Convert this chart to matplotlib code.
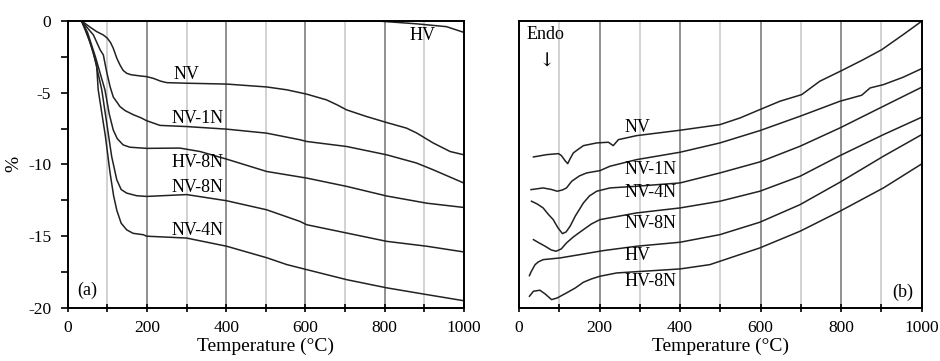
import matplotlib
matplotlib.use("Agg")
import matplotlib.pyplot as plt
import numpy as np

plt.rcParams['font.family'] = ['Liberation Serif', 'DejaVu Serif']
plt.rcParams['font.size'] = 13
plt.rcParams['axes.unicode_minus'] = False

# (a) mass loss, %
nv_x = [35, 60, 73, 90, 100, 108, 115, 124, 132, 140, 149, 160, 182, 199, 216, 235, 250, 300, 401, 502, 553, 603, 653, 680, 704, 754, 805, 855, 880, 922, 965, 1000]
nv_y = [0, -0.5, -0.74, -0.98, -1.2, -1.5, -1.9, -2.6, -3.07, -3.45, -3.65, -3.75, -3.83, -3.88, -4.0, -4.2, -4.3, -4.34, -4.4, -4.6, -4.8, -5.1, -5.5, -5.85, -6.2, -6.66, -7.08, -7.47, -7.8, -8.5, -9.1, -9.33]

nv1n_x = [35, 65, 82, 90, 98, 107, 115, 124, 132, 145, 166, 185, 199, 233, 300, 401, 502, 586, 603, 704, 805, 880, 922, 1000]
nv1n_y = [0, -0.98, -2.02, -2.37, -3.5, -4.58, -5.3, -5.65, -5.97, -6.25, -6.54, -6.75, -6.95, -7.28, -7.36, -7.54, -7.82, -8.28, -8.4, -8.75, -9.33, -9.9, -10.37, -11.3]

hv8n_x = [35, 50, 70, 94, 105, 115, 125, 140, 157, 199, 283, 334, 401, 502, 603, 704, 805, 906, 1000]
hv8n_y = [0, -0.8, -2.5, -4.8, -6.5, -7.6, -8.2, -8.64, -8.8, -8.88, -8.86, -9.1, -9.63, -10.49, -10.95, -11.53, -12.2, -12.7, -13.0]

nv8n_x = [35, 45, 65, 86, 100, 111, 124, 135, 149, 174, 199, 300, 401, 502, 586, 603, 704, 805, 906, 1000]
nv8n_y = [0, -0.6, -2.2, -4.8, -7.4, -9.45, -11.08, -11.75, -12.0, -12.18, -12.23, -12.1, -12.53, -13.16, -13.97, -14.2, -14.78, -15.36, -15.7, -16.1]

nv4n_x = [35, 56, 73, 77, 95, 107, 116, 124, 135, 149, 165, 191, 199, 300, 401, 502, 553, 603, 704, 805, 906, 1000]
nv4n_y = [0, -1.44, -3.07, -4.8, -8.0, -10.6, -12.2, -13.2, -14.1, -14.56, -14.8, -14.9, -15.0, -15.13, -15.7, -16.5, -16.98, -17.33, -18.03, -18.6, -19.07, -19.5]

hv_x = [35, 400, 780, 880, 956, 1000]
hv_y = [0, 0, 0, -0.2, -0.4, -0.8]

# (b) DTA signal, arbitrary units (height above axis bottom)
b_nv_x = [36, 69, 98, 105, 115, 121, 128, 135, 145, 160, 193, 222, 234, 247, 292, 400, 499, 549, 598, 648, 702, 747, 801, 855, 901, 954, 1000]
b_nv_y = [151, 153.3, 154.3, 152.5, 147, 144.3, 150, 155, 158, 162.3, 165, 165.7, 162.3, 168.3, 172.3, 177.7, 183.3, 190, 198.3, 206.7, 213.3, 226.7, 237.3, 248.3, 258.3, 273.3, 286.7]

b_nv1n_x = [30, 60, 80, 95, 108, 118, 131, 150, 168, 201, 226, 292, 400, 499, 598, 698, 797, 851, 872, 905, 954, 1000]
b_nv1n_y = [118.3, 120, 118.5, 116.7, 118, 120, 126.7, 132, 135, 137.3, 141.7, 148.3, 155.7, 165, 177.3, 191.7, 206.7, 212.7, 220, 223.3, 230.7, 239.3]

b_nv4n_x = [31, 45, 60, 72, 85, 97, 108, 117, 127, 140, 160, 175, 193, 226, 292, 400, 499, 598, 698, 797, 905, 1000]
b_nv4n_y = [106.7, 104, 100, 94, 88.3, 80, 74.3, 76, 81.7, 92, 105, 112, 116.7, 120, 121.7, 125, 135, 146, 161.7, 180, 201.7, 220.7]

b_nv8n_x = [36, 50, 65, 80, 92, 105, 118, 135, 160, 180, 201, 292, 400, 499, 598, 698, 797, 905, 1000]
b_nv8n_y = [68.3, 65, 61.7, 58, 56.7, 59, 65, 71, 78.3, 84, 88.3, 95, 100, 106.7, 116.7, 131.7, 152.3, 173.3, 190.7]

b_hv_x = [26, 30, 40, 48, 60, 102, 151, 209, 292, 400, 499, 598, 698, 797, 905, 1000]
b_hv_y = [32.3, 36, 43.3, 46, 48.3, 50, 53.3, 57.3, 61.7, 65.7, 73.3, 85.7, 103.3, 125.7, 151.7, 173.3]

b_hv8n_x = [26, 36, 52, 65, 81, 95, 118, 140, 160, 180, 201, 243, 400, 474, 598, 698, 797, 905, 1000]
b_hv8n_y = [11.7, 16.7, 17.7, 14, 8.3, 10, 15, 20, 25.7, 29, 31.7, 35, 39, 43.3, 60, 76.7, 96.7, 120, 144]

fig = plt.figure(figsize=(9.4, 3.61), dpi=100)
ax1 = fig.add_axes([0.072, 0.147, 0.4216, 0.795])
ax2 = fig.add_axes([0.5521, 0.147, 0.4284, 0.795])


def setup(ax):
    ax.set_xlim(0, 1000)
    for t in range(100, 1000, 100):
        col = '#888888' if t % 200 == 0 else '#cfcfcf'
        ax.axvline(t, color=col, lw=1.3, zorder=0)
    ax.set_xticks(range(0, 1001, 200))
    ax.set_xticks(range(0, 1001, 100), minor=True)
    ax.tick_params(axis='x', which='both', direction='inout', length=6, width=1.2,
                   pad=6, labelsize=12.5)
    ax.set_xlabel('Temperature (°C)', labelpad=1, fontsize=14)
    for s in ax.spines.values():
        s.set_linewidth(1.4)


lw = 1.1
setup(ax1)
for xs, ys in [(nv_x, nv_y), (nv1n_x, nv1n_y), (hv8n_x, hv8n_y), (nv8n_x, nv8n_y), (nv4n_x, nv4n_y), (hv_x, hv_y)]:
    ax1.plot(xs, ys, color='#222222', lw=lw)
ax1.set_ylim(-20, 0)
ax1.set_yticks(range(-20, 1, 5))
ax1.set_yticks(np.arange(-20, 0.1, 2.5), minor=True)
ax1.tick_params(axis='y', which='both', direction='out', length=5, width=1.2, pad=7, labelsize=12.5)
ax1.set_ylabel('%', labelpad=4, fontsize=14)
for txt, tx, ty in [('NV', 266, -3.76), ('NV-1N', 262, -6.78), ('HV-8N', 262, -9.85),
                    ('NV-8N', 262, -11.6), ('NV-4N', 262, -14.6), ('HV', 862, -0.98)]:
    ax1.text(tx, ty, txt, va='center', ha='left')
ax1.text(23, -18.8, '(a)', va='center', ha='left')

setup(ax2)
for xs, ys in [(b_nv_x, b_nv_y), (b_nv1n_x, b_nv1n_y), (b_nv4n_x, b_nv4n_y), (b_nv8n_x, b_nv8n_y), (b_hv_x, b_hv_y), (b_hv8n_x, b_hv8n_y)]:
    ax2.plot(xs, ys, color='#222222', lw=lw)
ax2.set_ylim(0, 287)
ax2.set_yticks([])
for txt, ty in [('NV', 180), ('NV-1N', 138.3), ('NV-4N', 115), ('NV-8N', 84.3), ('HV', 52.3), ('HV-8N', 26.7)]:
    ax2.text(263, ty, txt, va='center', ha='left')
ax2.text(19, 273, 'Endo', va='center', ha='left')
ax2.text(70, 246, '↓', va='center', ha='center', family=['DejaVu Serif'], fontsize=14)
ax2.text(979, 16, '(b)', va='center', ha='right')

fig.savefig('out.png', dpi=100)
